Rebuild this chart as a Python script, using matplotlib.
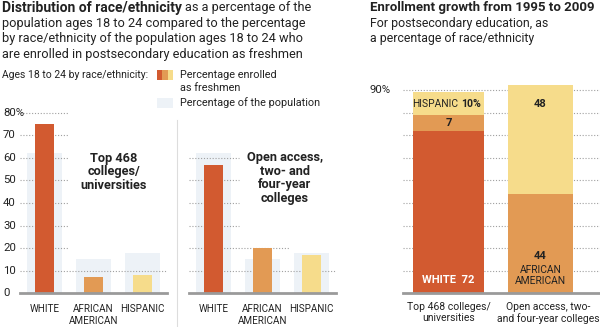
import matplotlib
matplotlib.use("Agg")
import matplotlib.pyplot as plt
import matplotlib.transforms as mtransforms

plt.rcParams['font.family'] = ['Roboto', 'DejaVu Sans']

# ---------------- data ----------------
races = ["WHITE", "AFRICAN\nAMERICAN", "HISPANIC"]
top_freshmen = [75, 7, 8]
top_population = [62, 15, 18]
open_freshmen = [57, 20, 17]
open_population = [62, 15, 18]
left_yticks = [0, 10, 20, 30, 40, 50, 60, 70, 80]
left_yticklabels = ["0", "10", "20", "30", "40", "50", "60", "70", "80%"]

growth_groups = ["Top 468 colleges/\nuniversities", "Open access, two-\nand four-year colleges"]
growth_white = [72, 0]
growth_african = [7, 44]
growth_hispanic = [10, 48]
right_grid = [10, 20, 30, 40, 50, 60, 70, 80, 90]

# ---------------- style ----------------
C_WHITE = "#d25a30"
C_AA = "#e29a54"
C_HISP = "#f6dc8b"
C_POP = "#edf2f7"
C_TXT = "#222222"
C_GRID = "#a0a0a0"
C_BASE = "#9a9a9a"

W, H = 600, 327
fig = plt.figure(figsize=(W / 100, H / 100), dpi=100)


def rect(x0, y0, x1, y1):
    return [x0 / W, 1 - y1 / H, (x1 - x0) / W, (y1 - y0) / H]


def ftext(x, y, s, **kw):
    kw.setdefault("color", C_TXT)
    kw.setdefault("va", "center")
    return fig.text(x / W, 1 - y / H, s, **kw)


# ---------------- titles ----------------
FS = 9.2
t = fig.text(2 / W, 1 - 8 / H, "Distribution of race/ethnicity", fontsize=10.0,
             fontweight="bold", color=C_TXT, va="center")
fig.canvas.draw()
bb = t.get_window_extent()
fig.text(bb.x1 / W + 3 / W, 1 - 8 / H, "as a percentage of the", fontsize=FS,
         color=C_TXT, va="center")
for i, line in enumerate(["population ages 18 to 24 compared to the percentage",
                          "by race/ethnicity of the population ages 18 to 24 who",
                          "are enrolled in postsecondary education as freshmen"]):
    ftext(2, 23.5 + 15.3 * i, line, fontsize=FS)

ftext(370, 8, "Enrollment growth from 1995 to 2009", fontsize=9.5, fontweight="bold")
ftext(370, 23.5, "For postsecondary education, as", fontsize=8.9)
ftext(370, 38.8, "a percentage of race/ethnicity", fontsize=8.9)

# ---------------- legend ----------------
LFS = 7.8
ftext(2, 75, "Ages 18 to 24 by race/ethnicity:", fontsize=7.5)
lax = fig.add_axes(rect(157, 70, 173, 108))
lax.set_xlim(0, 3)
lax.set_ylim(38, 0)
lax.axis("off")
for i, c in enumerate([C_WHITE, C_AA, C_HISP]):
    lax.bar(i + 0.5, 10, width=1.0, bottom=0, color=c, align="center")
lax.bar(1.5, 10, width=3.0, bottom=28, color=C_POP)
ftext(180, 75, "Percentage enrolled", fontsize=LFS)
ftext(180, 88, "as freshmen", fontsize=LFS)
ftext(180, 103, "Percentage of the population", fontsize=LFS)

# separator
fig.add_artist(plt.Line2D([177 / W, 177 / W], [0, 1 - 120 / H], color="#dddddd", lw=0.8))


# ---------------- small multiples ----------------
def panel(x0, x1, fresh, pop, grid_ext, show_labels):
    ax = fig.add_axes(rect(x0, 112.7, x1, 293.3))
    ax.set_xlim(-0.5, 2.5)
    ax.set_ylim(0, 80)
    for s in ax.spines.values():
        s.set_visible(False)
    x = range(len(races))
    ax.bar(x, pop, width=0.71, color=C_POP, zorder=1)
    for lvl, ext in grid_ext:
        ax.plot([-0.5, -0.5 + 3 * ext], [lvl, lvl], ls=(0, (1, 1.6)), lw=0.8,
                color=C_GRID, zorder=2, clip_on=False)
    ax.bar(x, fresh, width=0.37, color=[C_WHITE, C_AA, C_HISP], zorder=3)
    ax.axhline(0, color=C_BASE, lw=2, zorder=4, clip_on=False)
    ax.set_xticks(list(x))
    ax.set_xticklabels(races, fontsize=7.1, color=C_TXT, linespacing=1.2)
    ax.tick_params(axis="x", length=0, pad=8)
    ax.set_yticks([])
    if show_labels:
        tr = mtransforms.blended_transform_factory(fig.transFigure, ax.transData)
        for v, lab in zip(left_yticks, left_yticklabels):
            ax.text(3 / W, v, lab, transform=tr, ha="left", va="center",
                    fontsize=8.2, color=C_TXT)
    return ax


ax1 = panel(20, 167, top_freshmen, top_population,
            [(10, 1.0), (20, 0.33), (30, 0.33), (40, 0.33), (50, 0.33),
             (60, 0.33), (70, 0.33), (80, 0.33)], True)
ftext(114, 172, "Top 468\ncolleges/\nuniversities", fontsize=9.2, fontweight="bold",
      ha="center", linespacing=1.05)

ax2 = panel(189, 336, open_freshmen, open_population,
            [(10, 1.0), (20, 0.68), (30, 0.34), (40, 0.34), (50, 0.34),
             (60, 0.34)], False)
ftext(285, 178, "Open access,\ntwo- and\nfour-year\ncolleges", fontsize=9.2,
      fontweight="bold", ha="center", linespacing=1.05)

# ---------------- stacked panel ----------------
px_per = (293.3 - 90) / 90
top_px = 293.3 - 95 * px_per
ax3 = fig.add_axes(rect(403, top_px, 600, 293.3))
ax3.set_ylim(0, 95)
ax3.set_xlim(-0.495, 1.647)
for s in ax3.spines.values():
    s.set_visible(False)
for lvl in right_grid:
    ax3.axhline(lvl, ls=(0, (1, 1.6)), lw=0.8, color=C_GRID, zorder=0)
gx = [0, 1]
widths = [0.78, 0.71]
ax3.bar(gx, growth_white, width=widths, color=C_WHITE, zorder=2)
ax3.bar(gx, growth_african, width=widths, bottom=growth_white, color=C_AA, zorder=2)
bot_h = [w + a for w, a in zip(growth_white, growth_african)]
ax3.bar(gx, growth_hispanic, width=widths, bottom=bot_h, color=C_HISP, zorder=2)
ax3.axhline(0, color=C_BASE, lw=2, zorder=4, clip_on=False)
ax3.set_yticks([])
ax3.set_xticks(gx)
ax3.set_xticklabels(growth_groups, fontsize=7.5, color=C_TXT, linespacing=1.15)
ax3.tick_params(axis="x", length=0, pad=6)
labs = ax3.get_xticklabels()
labs[1].set_transform(labs[1].get_transform() +
                      mtransforms.ScaledTranslation(8 / 100, 0, fig.dpi_scale_trans))
ftext(370, 90, "90%", fontsize=8.2)

BFS = 7.6
y_h1 = growth_white[0] + growth_african[0] + growth_hispanic[0] / 2
tr = ax3.transData
ax3.text(0, y_h1, "HISPANIC", ha="right", va="center", fontsize=BFS - 0.2, color=C_TXT,
         transform=mtransforms.offset_copy(tr, fig=fig, x=10, y=0, units="dots"))
ax3.text(0, y_h1, "10%", ha="left", va="center", fontsize=BFS, color=C_TXT, fontweight="bold",
         transform=mtransforms.offset_copy(tr, fig=fig, x=13, y=0, units="dots"))
ax3.text(0, growth_white[0] + growth_african[0] / 2, str(growth_african[0]), ha="center",
         va="center", fontsize=BFS + 0.4, fontweight="bold", color=C_TXT)
ax3.text(0, 6, "WHITE  %d" % growth_white[0], ha="center", va="center", fontsize=BFS + 0.4,
         fontweight="bold", color="white")
ax3.text(1, bot_h[1] + growth_hispanic[1] - 8, str(growth_hispanic[1]), ha="center",
         va="center", fontsize=BFS + 0.4, fontweight="bold", color=C_TXT)
ax3.text(1, 16.5, str(growth_african[1]), ha="center", va="center", fontsize=BFS + 0.4,
         fontweight="bold", color=C_TXT)
ax3.text(1, 8.0, "AFRICAN\nAMERICAN", ha="center", va="center", fontsize=BFS - 0.2,
         color=C_TXT, linespacing=1.1)

fig.savefig("out.png", dpi=100)
